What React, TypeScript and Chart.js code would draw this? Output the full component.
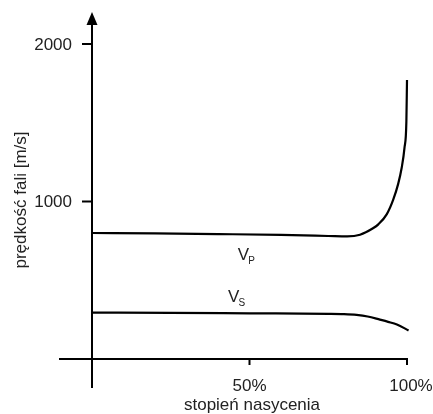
import React, { useEffect, useRef } from "react";
import { Chart, registerables } from "chart.js";

Chart.register(...registerables);

// saturation degree [%]
const vpX = [0, 20, 40, 60, 75, 81, 85.1, 89.2, 90.9, 93.6, 95.6, 97.2, 98.3, 99.2, 99.8, 100];
const vpY = [800, 797, 793, 788, 781, 778, 789, 830, 855, 920, 1010, 1112, 1213, 1340, 1507, 1771];
const vsX = [0, 25, 50, 75, 80, 84, 87.5, 91.4, 94, 96.8, 100.5];
const vsY = [295, 293, 290, 287, 285, 280, 270, 250, 236, 219, 181];

const yTickValues = [1000, 2000];
const yTickLabels = ["1000", "2000"];
const xTickValues = [50, 100];
const xTickLabels = ["50%", "100%"];
const xTitle = "stopień nasycenia";
const yTitle = "prędkość fali [m/s]";
const seriesNames = [
  { main: "V", sub: "P", x: 46.3, y: 629 },
  { main: "V", sub: "S", x: 43.2, y: 362 },
];

const FONT = "'Liberation Sans', Arial, sans-serif";

const axesPlugin = {
  id: "customAxes",
  afterDraw(chart: any) {
    const ctx = chart.ctx as CanvasRenderingContext2D;
    const xs = chart.scales.x;
    const ys = chart.scales.y;
    const x0 = xs.getPixelForValue(0);
    const y0 = ys.getPixelForValue(0);
    ctx.save();
    ctx.strokeStyle = "#000";
    ctx.fillStyle = "#000";
    ctx.lineWidth = 2;
    // y axis
    ctx.beginPath();
    ctx.moveTo(x0, 388);
    ctx.lineTo(x0, 22);
    ctx.stroke();
    // arrow
    ctx.beginPath();
    ctx.moveTo(x0, 12);
    ctx.lineTo(x0 - 5.5, 25);
    ctx.lineTo(x0 + 5.5, 25);
    ctx.closePath();
    ctx.fill();
    // x axis
    ctx.beginPath();
    ctx.moveTo(59, y0);
    ctx.lineTo(xs.getPixelForValue(100) + 1, y0);
    ctx.stroke();
    // y ticks
    ctx.font = `17px ${FONT}`;
    ctx.textAlign = "right";
    ctx.textBaseline = "middle";
    yTickValues.forEach((v, i) => {
      const py = ys.getPixelForValue(v);
      ctx.beginPath();
      ctx.moveTo(x0 - 10, py);
      ctx.lineTo(x0, py);
      ctx.stroke();
      ctx.fillStyle = "#222";
      ctx.fillText(yTickLabels[i], x0 - 20, py + 1);
    });
    // x ticks
    ctx.textAlign = "center";
    ctx.textBaseline = "alphabetic";
    xTickValues.forEach((v, i) => {
      const px = xs.getPixelForValue(v);
      ctx.beginPath();
      ctx.moveTo(px, y0);
      ctx.lineTo(px, y0 + 6);
      ctx.stroke();
      ctx.fillStyle = "#222";
      const off = v === 100 ? 4 : 0;
      ctx.fillText(xTickLabels[i], px + off, 391);
    });
    // x title
    ctx.fillText(xTitle, 252, 410);
    // y title
    ctx.save();
    ctx.translate(21, 200);
    ctx.rotate(-Math.PI / 2);
    ctx.textBaseline = "middle";
    ctx.fillText(yTitle, 0, 0);
    ctx.restore();
    // series labels
    seriesNames.forEach((s) => {
      const px = xs.getPixelForValue(s.x);
      const py = ys.getPixelForValue(s.y);
      ctx.textAlign = "left";
      ctx.textBaseline = "alphabetic";
      ctx.font = `17px ${FONT}`;
      ctx.fillText(s.main, px, py);
      const w = ctx.measureText(s.main).width;
      ctx.font = `10px ${FONT}`;
      ctx.fillText(s.sub, px + w - 1, py + 4);
    });
    ctx.restore();
  },
};

export default function App() {
  const ref = useRef<HTMLCanvasElement | null>(null);
  useEffect(() => {
    if (!ref.current) return;
    const chart = new Chart(ref.current, {
      type: "line",
      data: {
        datasets: [
          {
            label: "Vp",
            data: vpX.map((x, i) => ({ x, y: vpY[i] })),
            borderColor: "#000",
            borderWidth: 2.2,
            pointRadius: 0,
            cubicInterpolationMode: "monotone",
            clip: false as any,
          },
          {
            label: "Vs",
            data: vsX.map((x, i) => ({ x, y: vsY[i] })),
            borderColor: "#000",
            borderWidth: 2.2,
            pointRadius: 0,
            cubicInterpolationMode: "monotone",
            clip: false as any,
          },
        ],
      },
      options: {
        animation: false,
        responsive: true,
        maintainAspectRatio: false,
        layout: { padding: { left: 92, right: 26, top: 44, bottom: 55 } },
        plugins: { legend: { display: false }, tooltip: { enabled: false } },
        scales: {
          x: { type: "linear", min: 0, max: 100, display: false },
          y: { type: "linear", min: 0, max: 2000, display: false },
        },
      },
      plugins: [axesPlugin],
    });
    return () => chart.destroy();
  }, []);
  return (
    <div style={{ position: "fixed", left: 0, top: 0, width: 433, height: 414, background: "#fff" }}>
      <canvas ref={ref} />
    </div>
  );
}
